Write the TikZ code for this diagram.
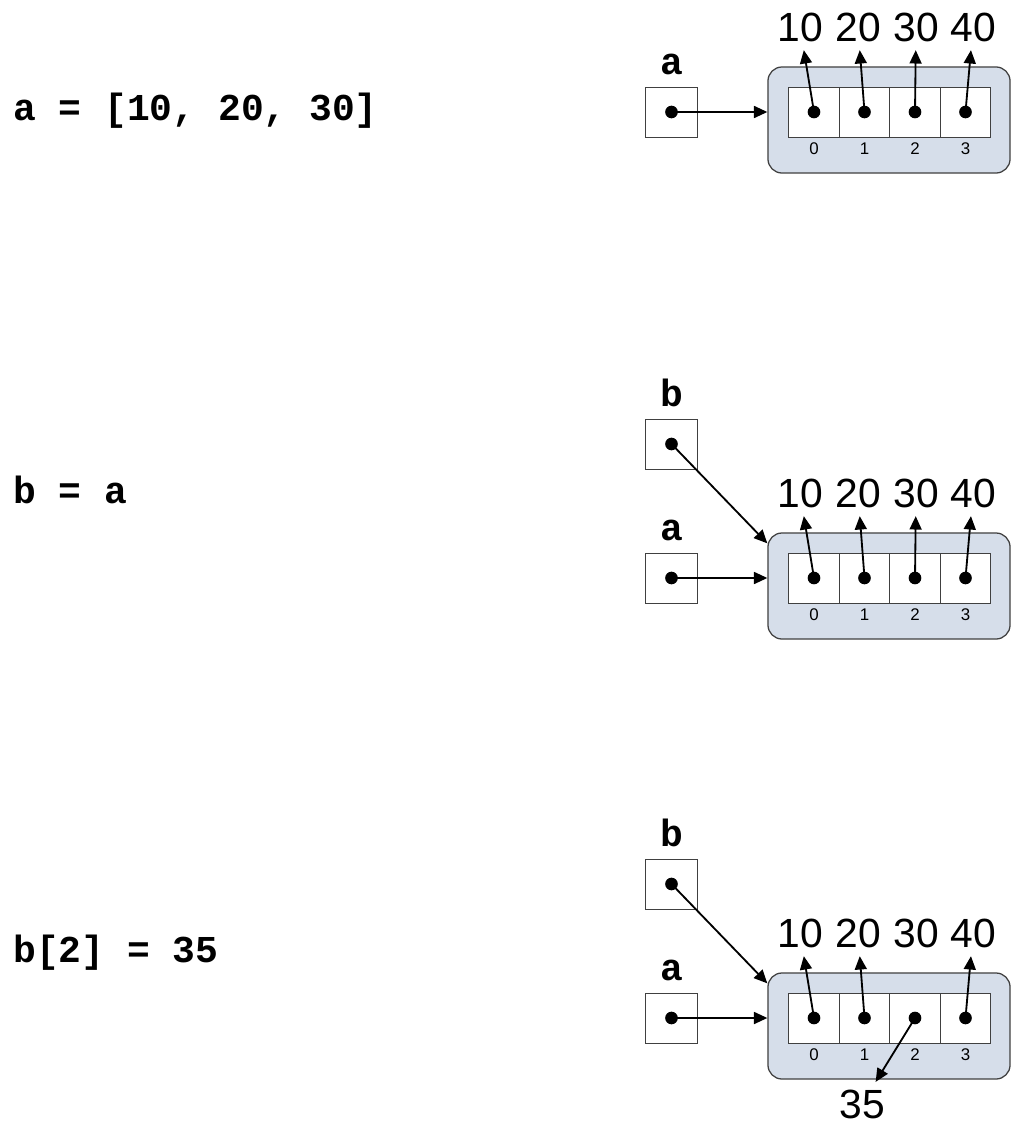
\documentclass[tikz,border=0pt]{standalone}
\usepackage{fontspec}
\setmainfont{Liberation Sans}
\setmonofont{Liberation Mono}
\usetikzlibrary{arrows.meta,calc,positioning}
\definecolor{listfill}{RGB}{214,222,234}
\definecolor{edge}{RGB}{64,64,64}

\begin{document}
\begin{tikzpicture}[
        x=0.025cm, y=0.025cm,
        code/.style={anchor=base west, font=\ttfamily\bfseries\fontsize{27}{30}\selectfont, inner sep=0pt},
        varname/.style={anchor=base, font=\ttfamily\bfseries\fontsize{27}{30}\selectfont, inner sep=0pt},
        varbox/.style={draw=edge, line width=0.6pt, fill=white, minimum width=1.3cm, minimum height=1.25cm, inner sep=0pt},
        listbox/.style={draw=edge, line width=0.9pt, fill=listfill, rounded corners=0.35cm, minimum width=6.05cm, minimum height=2.65cm},
        cell/.style={draw=edge, line width=0.6pt, fill=white, minimum width=1.2625cm, minimum height=1.25cm, inner sep=0pt},
        ptdot/.style={circle, fill=black, minimum size=9pt, inner sep=0pt},
        idx/.style={font=\fontsize{12}{13}\selectfont, inner sep=0pt},
        val/.style={font=\fontsize{29}{32}\selectfont, inner sep=6pt},
        ptr/.style={-{Triangle[length=9.5pt,width=8.5pt]}, line width=1.3pt}
    ]
        \useasboundingbox (0,0) rectangle (1011,-1125);

        % Code lines
        \node[code] (code1) at (13,-120) {a = [10, 20, 30]};
        \node[code] (code2) at (13,-503) {b = a};
        \node[code] (code3) at (13,-962) {b[2] = 35};

        % List object, its values and variable a
        \foreach \p/\y in {1/-112, 2/-578, 3/-1018} {
            \node[listbox] (L\p) at (889, \y-8) {};
            \foreach \i in {0,...,3} {
                \node[cell] (c\p\i) at (814+50.5*\i, \y) {};
                \node[ptdot] (d\p\i) at (c\p\i) {};
                \node[idx] (n\p\i) at (814+50.5*\i, \y-37) {\i};
            }
            \foreach \i/\v/\vx in {0/10/800, 1/20/858, 2/30/916, 3/40/973} {
                \node[val] (v\p\i) at (\vx, \y+85) {\v};
                \ifnum\p\i=32 \else \draw[ptr] (d\p\i.center) -- (v\p\i); \fi
            }
            \node[varbox] (a\p) at (671.5, \y) {};
            \node[ptdot] (ad\p) at (a\p) {};
            \node[varname] (an\p) at ($(a\p.north)+(0,12)$) {a};
            \draw[ptr] (ad\p.center) -- (ad\p.center -| L\p.west);
        }

        % Variable b
        \foreach \p/\y in {2/-578, 3/-1018} {
            \node[varbox] (b\p) at (671.5, \y+134) {};
            \node[ptdot] (bd\p) at (b\p) {};
            \node[varname] (bn\p) at ($(b\p.north)+(0,12)$) {b};
            \draw[ptr] (bd\p.center) -- ($(L\p.north west)+(0,-11)$);
        }

        % New value for b[2]
        \node[val, inner sep=1pt] (v35) at (862,-1104) {35};
        \draw[ptr, shorten >=5pt] (d32.center) -- (v35);
    \end{tikzpicture}
\end{document}
